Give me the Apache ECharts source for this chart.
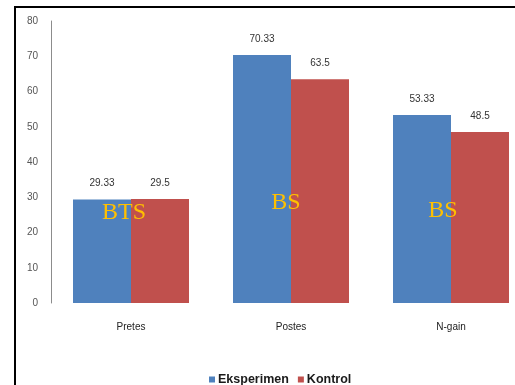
<!DOCTYPE html>
<html>
<head>
<meta charset="utf-8">
<script src="https://cdn.jsdelivr.net/npm/echarts@6/dist/echarts.min.js"></script>
<style>
  html, body { margin: 0; padding: 0; background: #ffffff; overflow: hidden; }
  #chart { width: 532px; height: 385px; }
</style>
</head>
<body>
<div id="chart"></div>
<script>
// Test phases and group scores
const categories = ['Pretes', 'Postes', 'N-gain'];
const eksperimen = [29.33, 70.33, 53.33];
const kontrol = [29.5, 63.5, 48.5];
const eksperimenLabels = ['29.33', '70.33', '53.33'];
const kontrolLabels = ['29.5', '63.5', '48.5'];
const yTicks = { min: 0, max: 80, interval: 10 };
// Significance notes per phase (BTS = not significant, BS = significant)
const notes = ['BTS', 'BS', 'BS'];

const chart = echarts.init(document.getElementById('chart'), null, { renderer: 'canvas' });

const labelStyle = {
  show: true,
  position: 'top',
  distance: 11,
  fontFamily: 'Liberation Sans, Arial, sans-serif',
  fontSize: 10,
  color: '#333333'
};

chart.setOption({
  backgroundColor: '#ffffff',
  animation: false,
  grid: { left: 51, top: 21, width: 480, height: 282, containLabel: false },
  legend: {
    data: ['Eksperimen', 'Kontrol'],
    left: 204,
    top: 368,
    itemWidth: 6,
    itemHeight: 6,
    itemGap: 9,
    icon: 'rect',
    textStyle: { fontFamily: 'Liberation Sans, Arial, sans-serif', fontSize: 12.5, fontWeight: 'bold', color: '#1a1a1a', padding: [0, 0, 0, -2] }
  },
  xAxis: {
    type: 'category',
    data: categories,
    axisLine: { show: false },
    axisTick: { show: false },
    axisLabel: { margin: 19, fontFamily: 'Liberation Sans, Arial, sans-serif', fontSize: 10, color: '#222222' }
  },
  yAxis: {
    type: 'value',
    min: yTicks.min,
    max: yTicks.max,
    interval: yTicks.interval,
    splitLine: { show: false },
    axisLine: { show: true, lineStyle: { color: '#8c8c8c', width: 1 } },
    axisTick: { show: false },
    axisLabel: { margin: 13, fontFamily: 'Liberation Sans, Arial, sans-serif', fontSize: 10, color: '#555555' }
  },
  series: [
    {
      name: 'Eksperimen',
      type: 'bar',
      data: eksperimen,
      barWidth: 58,
      barGap: '0%',
      itemStyle: { color: '#4f81bd' },
      label: Object.assign({}, labelStyle, { formatter: p => eksperimenLabels[p.dataIndex] })
    },
    {
      name: 'Kontrol',
      type: 'bar',
      data: kontrol,
      barWidth: 58,
      barGap: '0%',
      itemStyle: { color: '#c0504d' },
      label: Object.assign({}, labelStyle, { formatter: p => kontrolLabels[p.dataIndex] })
    }
  ]
});

// Frame lines and significance notes drawn over the bars
const noteOffsets = [[-7, 205], [-5, 195], [-8, 203]];
const noteGraphics = notes.map((t, i) => {
  const cx = chart.convertToPixel({ xAxisIndex: 0 }, categories[i]);
  return {
    type: 'text',
    x: cx + noteOffsets[i][0],
    y: noteOffsets[i][1] - 4,
    style: {
      text: t,
      fill: '#ffc000',
      font: '24px "Liberation Serif", "Times New Roman", serif',
      align: 'center',
      verticalAlign: 'top'
    },
    z: 100
  };
});

chart.setOption({
  graphic: [
    { type: 'rect', shape: { x: 14, y: 6, width: 2, height: 379 }, style: { fill: '#000000' }, z: 100 },
    { type: 'rect', shape: { x: 14, y: 6, width: 520, height: 2 }, style: { fill: '#000000' }, z: 100 }
  ].concat(noteGraphics)
});
</script>
</body>
</html>
